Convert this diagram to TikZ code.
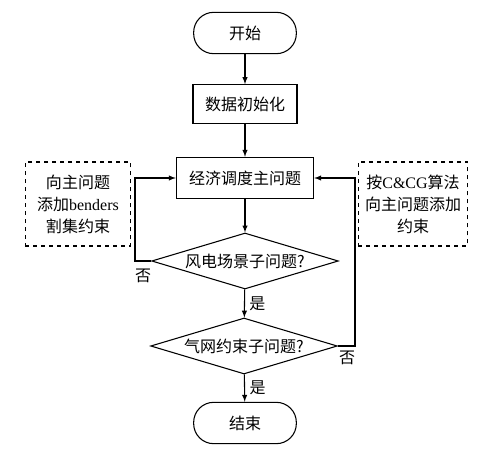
\documentclass[tikz,border=0pt]{standalone}
\usepackage{fontspec}
\setmainfont{Liberation Serif}
\newfontfamily\cjk{Noto Sans CJK SC}
\usepackage{tikz}
\usetikzlibrary{arrows,shapes.geometric,positioning}

\tikzset{
  term/.style={draw, rounded corners=15pt, minimum width=77pt, minimum height=31pt},
  proc/.style={draw, minimum width=78pt, minimum height=29pt},
  decide/.style={draw, diamond, aspect=3.3, inner sep=0pt, minimum width=140pt, minimum height=42pt},
  note/.style={draw, dashed, align=center, minimum width=79pt, minimum height=63pt, inner sep=2pt}
}

\begin{document}
\begin{tikzpicture}[x=0.75pt, y=-0.75pt, >=latex, font=\fontsize{12}{16.5}\selectfont\cjk, line width=0.8pt]
\useasboundingbox (0,0) rectangle (478,456);

\node[term] (start) at (245,33) {开始};
\node[proc] (init) at (245,104) {数据初始化};
\node[proc, minimum width=103pt, minimum height=31pt] (master) at (245,178) {经济调度主问题};
\node[decide] (wind) at (245,261) {风电场景子问题?};
\node[decide] (gas) at (244,346) {气网约束子问题?};
\node[term] (stop) at (245,423) {结束};

\node[note] (benders) at (78,204) {向主问题\\添加{\normalfont benders}\\割集约束};
\node[note, minimum width=82pt] (ccg) at (413,204) {按{\normalfont C\&CG}算法\\向主问题添加\\约束};

\coordinate (lft) at (135,261);
\coordinate (rgt) at (355,346);

\draw[->] (start) to (init);
\draw[->] (init) to (master);
\draw[->] (master) to (wind);
\draw[->] (wind) to node[right]{是} (gas);
\draw[->] (gas) to node[right]{是} (stop);
\draw[->] (wind.west) -- (lft) |- (master.west);
\draw[->] (gas.east) -- (rgt) |- (master.east);

\node (no1) at (143,276) {否};
\node (no2) at (347,358) {否};
\end{tikzpicture}
\end{document}
